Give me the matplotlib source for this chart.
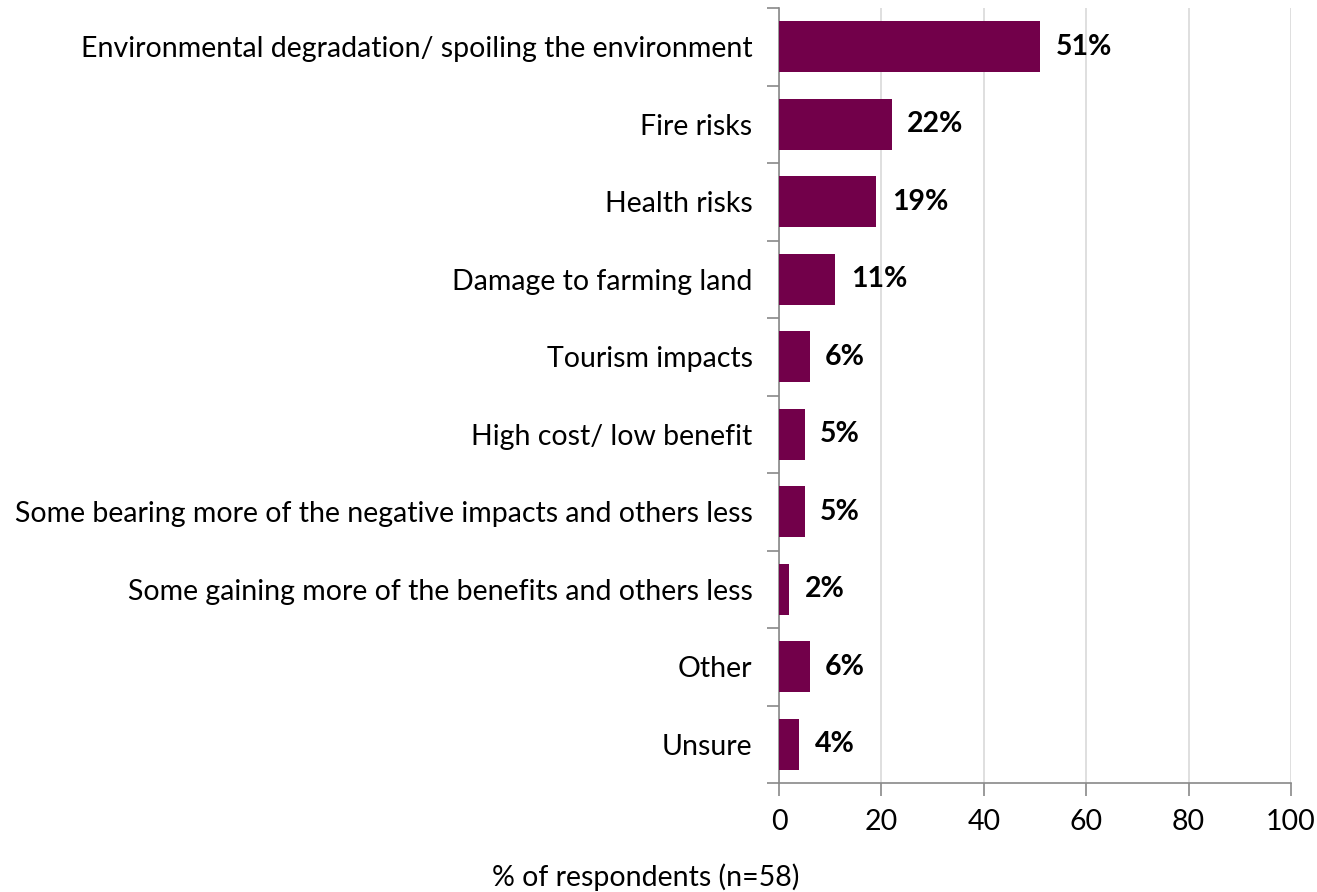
from matplotlib import pyplot as plt
import numpy as np

categories = [
    "Environmental degradation/ spoiling the environment",
    "Fire risks",
    "Health risks",
    "Damage to farming land",
    "Tourism impacts",
    "High cost/ low benefit",
    "Some bearing more of the negative impacts and others less",
    "Some gaining more of the benefits and others less",
    "Other",
    "Unsure",
]
percent = [51, 22, 19, 11, 6, 5, 5, 2, 6, 4]
x_ticks = [0, 20, 40, 60, 80, 100]

plt.rcParams['font.family'] = ['Lato', 'DejaVu Sans']
FS = 20.5

fig = plt.figure(figsize=(13.17, 8.92), dpi=100)
ax = fig.add_axes([0.5915, 0.1222, 0.3888, 0.8688])

y = np.arange(len(categories))
ax.barh(y, percent, height=0.66, color='#72004A', zorder=3)

for yi, v in zip(y, percent):
    ax.text(v + 3, yi, f"{v}%", va='center', ha='left',
            fontsize=FS, fontweight='bold', color='black', zorder=4)

ax.set_ylim(len(categories) - 0.5, -0.5)
ax.set_xlim(0, 100)
ax.set_xticks(x_ticks)
ax.set_yticks(y)
ax.set_yticklabels(categories, fontsize=FS)
ax.tick_params(axis='y', length=0, pad=19)
ax.set_yticks(np.arange(len(categories) + 1) - 0.5, minor=True)
ax.tick_params(axis='y', which='minor', length=9, width=1.2, color='#898989')
ax.tick_params(axis='x', labelsize=FS, length=9, width=1.2, color='#898989', pad=10)

ax.grid(axis='x', color='#D9D9D9', linewidth=1.2, zorder=0)
for side in ['top', 'right']:
    ax.spines[side].set_visible(False)
for side in ['left', 'bottom']:
    ax.spines[side].set_color('#898989')
    ax.spines[side].set_linewidth(1.2)

fig.text(0.49, 0.017, "% of respondents (n=58)", ha='center', va='center',
         fontsize=FS)

fig.savefig('out.png', dpi=100)
